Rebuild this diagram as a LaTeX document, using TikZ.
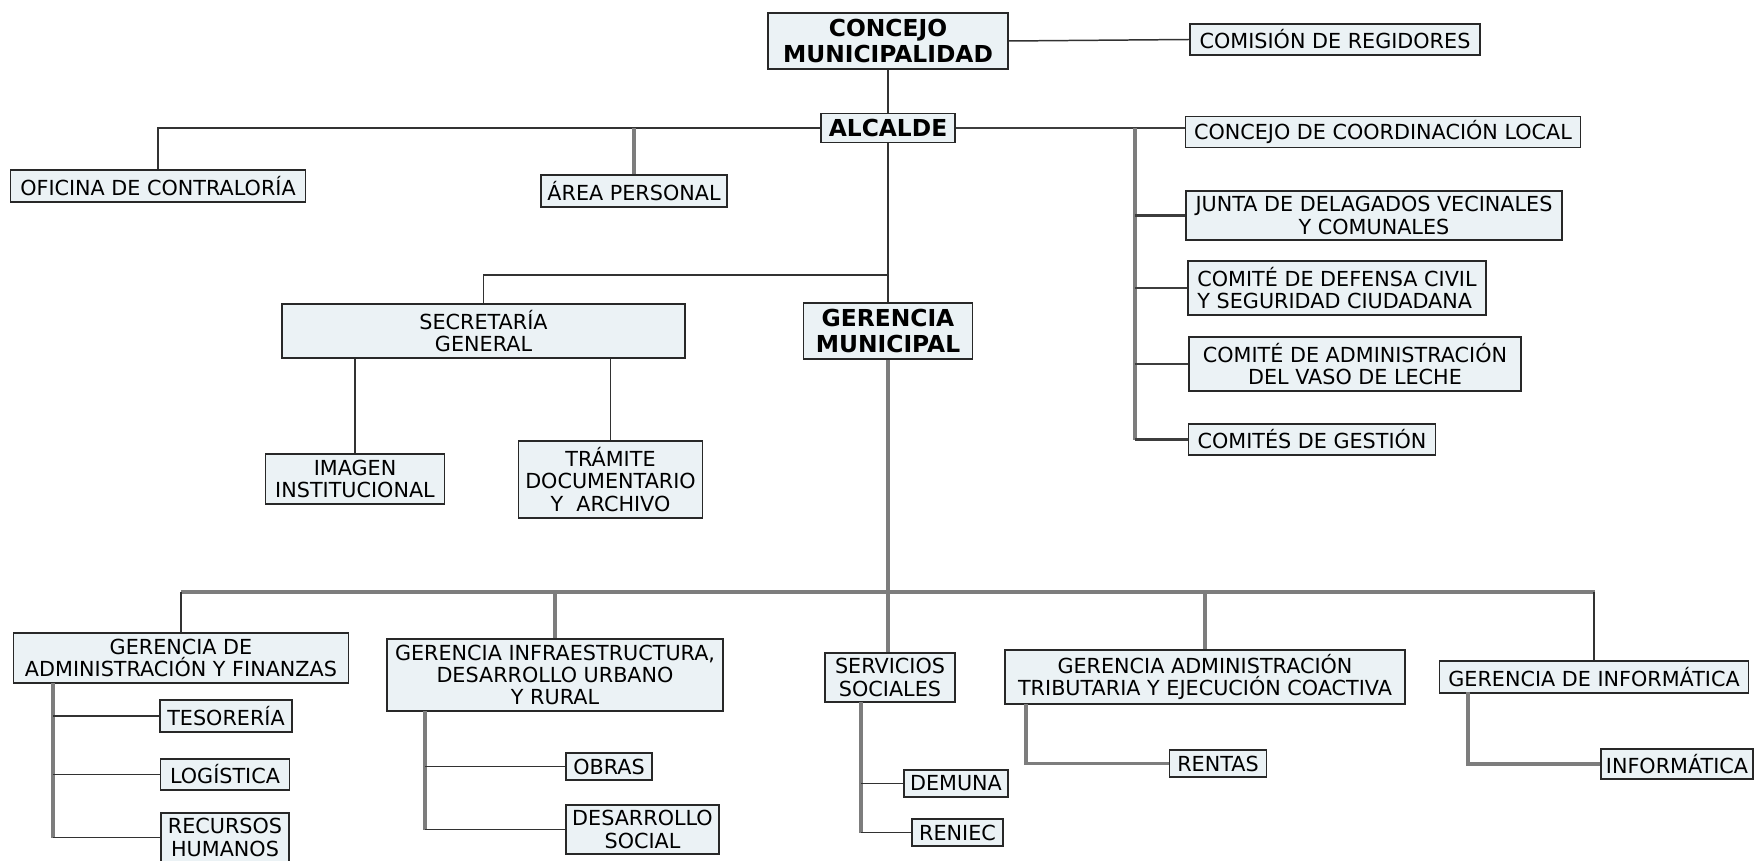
\documentclass[tikz,border=0pt]{standalone}
\usepackage{fontspec}
\setmainfont{DejaVu Sans}
\usepackage{tikz}
\usetikzlibrary{positioning,calc}
\usepackage{xcolor}
\definecolor{boxfill}{RGB}{235,242,245}
\definecolor{boxline}{RGB}{40,40,40}
\definecolor{trunk}{RGB}{125,125,125}
\definecolor{stub}{RGB}{50,50,50}

\begin{document}
\begin{tikzpicture}[
  x=0.02cm, y=-0.02cm,
  unit/.style={draw=boxline, line width=1.1pt, fill=boxfill, align=center, inner xsep=2pt, inner ysep=1pt,
    font=\fontsize{11.8}{12.6}\selectfont},
  hd/.style={unit, font=\fontsize{13.3}{14.7}\selectfont\bfseries},
  wh/.style 2 args={minimum width=#1*0.02cm, minimum height=#2*0.02cm},
  tline/.style={draw=stub, line width=0.85pt},
  mline/.style={draw=stub!85!trunk, line width=1.2pt},
  gline/.style={draw=trunk, line width=2pt},
]
\useasboundingbox (0,0) rectangle (1760,861);

% top of the chart
\node[hd, wh={240}{56}] (concejo) at (888,41) {CONCEJO\\MUNICIPALIDAD};
\node[unit, wh={290}{31}] (comision) at (1335,39.5) {COMISIÓN DE REGIDORES};
\node[hd, wh={134}{29}] (alcalde) at (888,128) {ALCALDE};
\node[unit, wh={295}{32}] (oficina) at (158,186) {OFICINA DE CONTRALORÍA};
\node[unit, wh={186}{32}] (area) at (634,191) {ÁREA PERSONAL};

% comites on the right
\node[unit, wh={395}{31}] (coord) at (1383,132) {CONCEJO DE COORDINACIÓN LOCAL};
\node[unit, wh={376}{49}] (junta) at (1374,215.5) {JUNTA DE DELAGADOS VECINALES\\Y COMUNALES};
\node[unit, wh={298}{54}, align=left] (defensa) at (1337,288) {COMITÉ DE DEFENSA CIVIL\\Y SEGURIDAD CIUDADANA};
\node[unit, wh={332}{54}] (vaso) at (1355,364) {COMITÉ DE ADMINISTRACIÓN\\DEL VASO DE LECHE};
\node[unit, wh={247}{31}] (gestion) at (1312,439.5) {COMITÉS DE GESTIÓN};

% middle
\node[unit, wh={403}{54}] (secretaria) at (483.5,331) {SECRETARÍA\\GENERAL};
\node[hd, wh={169}{56}] (gerencia) at (888,331) {GERENCIA\\MUNICIPAL};
\node[unit, wh={179}{50}] (imagen) at (355,479) {IMAGEN\\INSTITUCIONAL};
\node[unit, wh={184}{77}] (tramite) at (610.5,479.5) {TRÁMITE\\DOCUMENTARIO\\Y~ ARCHIVO};

% gerencias
\node[unit, wh={335}{50}] (admin) at (181,658) {GERENCIA DE\\ADMINISTRACIÓN Y FINANZAS};
\node[unit, wh={336}{72}] (infra) at (555,675) {GERENCIA INFRAESTRUCTURA,\\DESARROLLO URBANO\\Y RURAL};
\node[unit, wh={130}{49}] (servicios) at (890,677.5) {SERVICIOS\\SOCIALES};
\node[unit, wh={400}{54}] (tributaria) at (1205,677) {GERENCIA ADMINISTRACIÓN\\TRIBUTARIA Y EJECUCIÓN COACTIVA};
\node[unit, wh={309}{32}] (ginfo) at (1594,677) {GERENCIA DE INFORMÁTICA};

% units below the gerencias
\node[unit, wh={132}{32}] (tesoreria) at (226,716) {TESORERÍA};
\node[unit, wh={129}{31}] (logistica) at (225,774.5) {LOGÍSTICA};
\node[unit, wh={128}{49}] (recursos) at (225,837.5) {RECURSOS\\HUMANOS};
\node[unit, wh={86}{27}] (obras) at (609,766.5) {OBRAS};
\node[unit, wh={153}{49}] (desarrollo) at (642.5,829.5) {DESARROLLO\\SOCIAL};
\node[unit, wh={104}{27}] (demuna) at (956,783.5) {DEMUNA};
\node[unit, wh={91}{27}] (reniec) at (957.5,832.5) {RENIEC};
\node[unit, wh={97}{27}] (rentas) at (1218,763.5) {RENTAS};
\node[unit, wh={152}{30}] (sistemas) at (1677,764) {INFORMÁTICA};

% connectors, upper part
\draw[tline] (concejo.east) -- (comision.west);
\draw[tline] (concejo.south) -- (alcalde.north);
\draw[tline] (alcalde.west) -| (oficina.north);
\draw[gline] (area.north) -- (area.north |- alcalde.west);
\draw[mline] (alcalde.east) -- (alcalde.east -| coord.west);
\coordinate (rbar) at (1135,128);
\draw[gline] (rbar) -- (rbar |- gestion.west);
\foreach \n in {junta,defensa,vaso,gestion}
  \draw[mline] (rbar |- \n.west) -- (\n.west);

% secretaria branch
\draw[tline] (alcalde.south) -- (gerencia.north);
\coordinate (sbr) at (888,275);
\draw[tline] (sbr) -| (secretaria.north);
\draw[tline] (imagen.north) -- (imagen.north |- secretaria.south);
\draw[tline] (tramite.north) -- (tramite.north |- secretaria.south);

% bus to the gerencias
\coordinate (busL) at (181,592);
\coordinate (busR) at (1595,592);
\draw[gline] (gerencia.south) -- (gerencia.south |- servicios.north);
\draw[gline] (busL) -- (busR);
\draw[tline] (admin.north) -- (admin.north |- busL);
\draw[gline] (infra.north) -- (infra.north |- busL);
\draw[gline] (tributaria.north) -- (tributaria.north |- busL);
\draw[tline] (ginfo.north) -- (ginfo.north |- busR);

% lower trunks
\coordinate (adm-t) at (53,683);
\draw[gline] (adm-t) -- (adm-t |- recursos.west);
\foreach \n in {tesoreria,logistica,recursos}
  \draw[tline] (adm-t |- \n.west) -- (\n.west);
\coordinate (inf-t) at (425,711);
\draw[gline] (inf-t) -- (inf-t |- desarrollo.west);
\foreach \n in {obras,desarrollo}
  \draw[tline] (inf-t |- \n.west) -- (\n.west);
\coordinate (ser-t) at (861,702);
\draw[gline] (ser-t) -- (ser-t |- reniec.west);
\foreach \n in {demuna,reniec}
  \draw[tline] (ser-t |- \n.west) -- (\n.west);
\coordinate (tri-t) at (1026,704);
\draw[gline] (tri-t) |- (rentas.west);
\coordinate (gin-t) at (1468,692);
\draw[gline] (gin-t) |- (sistemas.west);
\end{tikzpicture}
\end{document}
